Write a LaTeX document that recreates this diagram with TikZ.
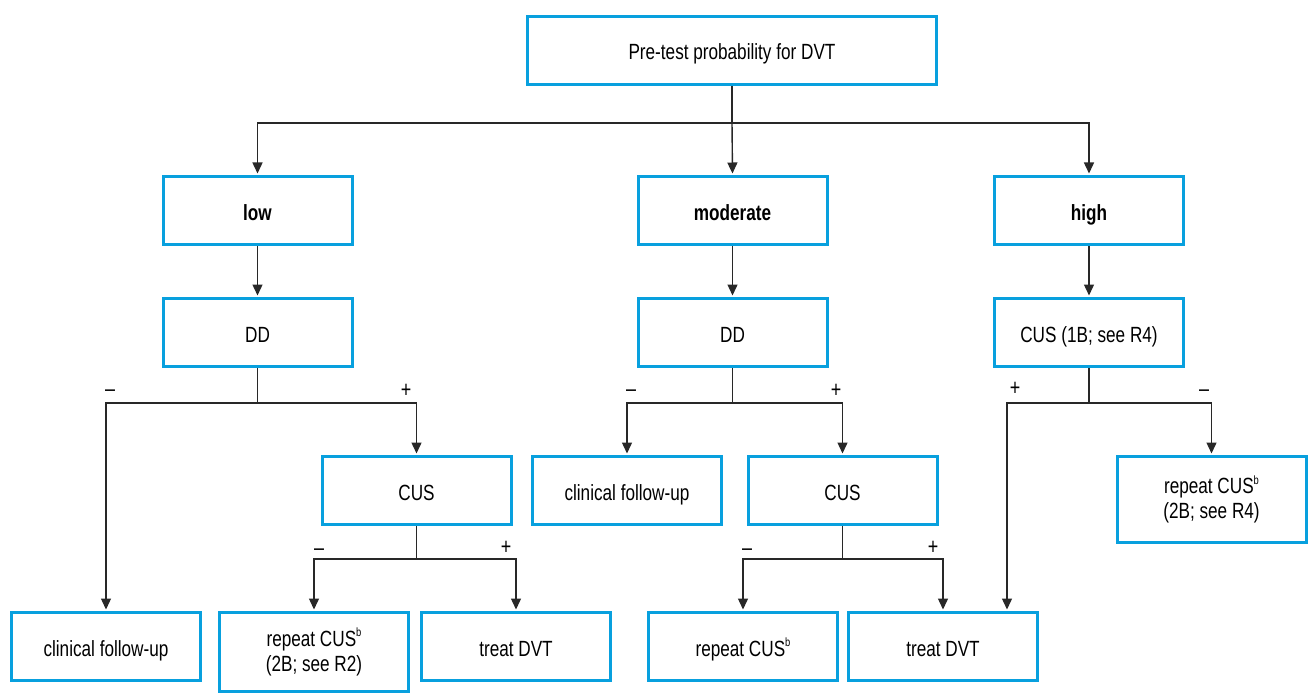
\documentclass[tikz,border=0pt]{standalone}
\usepackage{fontspec}
\setmainfont{Liberation Sans}[FakeStretch=0.78]
\usetikzlibrary{arrows.meta,calc}
\definecolor{boxblue}{RGB}{8,160,222}
\definecolor{linegray}{RGB}{40,40,40}
\newcommand{\supb}{\raisebox{0.42em}{\fontsize{12}{12}\selectfont b}}
\tikzset{
  box/.style={draw=boxblue, line width=3pt, rectangle, minimum width=189pt, minimum height=68pt,
    inner sep=2pt, align=center, font=\fontsize{22}{25}\selectfont, text=black,
    text height=19pt, text depth=0pt},
  twoline/.style={text height={}, text depth={}},
  conn/.style={draw=linegray, line width=1.4pt},
  arr/.style={conn, -{Triangle[length=11pt,width=10pt]}, shorten >=1.5pt},
  sign/.style={font=\fontsize{23}{23}\selectfont, inner sep=0pt, text=black},
}
\begin{document}
\begin{tikzpicture}[x=1pt,y=-1pt]
\useasboundingbox (0,0) rectangle (1308,695);
% nodes
\node[box, minimum width=409pt] (top) at (732,50.5) {Pre-test probability for DVT};
\node[box] (low) at (257.5,210.5) {\textbf{low}};
\node[box] (mod) at (732.5,210.5) {\textbf{moderate}};
\node[box] (high) at (1089,210.5) {\textbf{high}};
\node[box] (ddlow) at (257.5,332.5) {DD};
\node[box] (ddmod) at (732.5,332.5) {DD};
\node[box] (cushigh) at (1089,332.5) {CUS (1B; see R4)};
\node[box] (cuslow) at (416.5,490.5) {CUS};
\node[box] (cfumid) at (627,490.5) {clinical follow-up};
\node[box] (cusmid) at (842.5,490.5) {CUS};
\node[box, twoline, minimum height=86pt] (rcR4) at (1211.5,499.5) {repeat CUS\supb\\(2B; see R4)};
\node[box] (cfuleft) at (106,646.5) {clinical follow-up};
\node[box, twoline, minimum height=79pt] (rcR2) at (314,652) {repeat CUS\supb\\(2B; see R2)};
\node[box] (treatleft) at (516,646.5) {treat DVT};
\node[box] (rcmid) at (743,646.5) {repeat CUS\supb};
\node[box] (treatmid) at (943,646.5) {treat DVT};
% branch points
\coordinate (b1) at (732,123);
\coordinate (b2) at (257.5,403);
\coordinate (b3) at (416.5,559);
\coordinate (b4) at (732.5,403);
\coordinate (b5) at (842.5,559);
\coordinate (b6) at (1089,403);
\coordinate (t2) at ([xshift=64pt]treatmid.north);
% connectors
\draw[conn] (top.south) -- (b1);
\draw[arr] (b1) -| (low.north);
\draw[arr] (b1) -- (mod.north);
\draw[arr] (b1) -| (high.north);
\draw[arr] (low) -- (ddlow);
\draw[arr] (mod) -- (ddmod);
\draw[arr] (high) -- (cushigh);
\draw[conn] (ddlow.south) -- (b2);
\draw[arr] (b2) -| (cfuleft.north);
\draw[arr] (b2) -| (cuslow.north);
\draw[conn] (cuslow.south) -- (b3);
\draw[arr] (b3) -| (rcR2.north);
\draw[arr] (b3) -| (treatleft.north);
\draw[conn] (ddmod.south) -- (b4);
\draw[arr] (b4) -| (cfumid.north);
\draw[arr] (b4) -| (cusmid.north);
\draw[conn] (cusmid.south) -- (b5);
\draw[arr] (b5) -| (rcmid.north);
\draw[arr] (b5) -| (treatmid.north);
\draw[conn] (cushigh.south) -- (b6);
\draw[arr] (b6) -| (t2);
\draw[arr] (b6) -| (rcR4.north);
% signs
\node[sign] (s1) at (110,393) {–};
\node[sign] (s2) at (406,391) {+};
\node[sign] (s3) at (319,552) {–};
\node[sign] (s4) at (506,548) {+};
\node[sign] (s5) at (631,393) {–};
\node[sign] (s6) at (836,391) {+};
\node[sign] (s7) at (747,552) {–};
\node[sign] (s8) at (933,548) {+};
\node[sign] (s9) at (1015,389) {+};
\node[sign] (s10) at (1204,393) {–};
\end{tikzpicture}
\end{document}
